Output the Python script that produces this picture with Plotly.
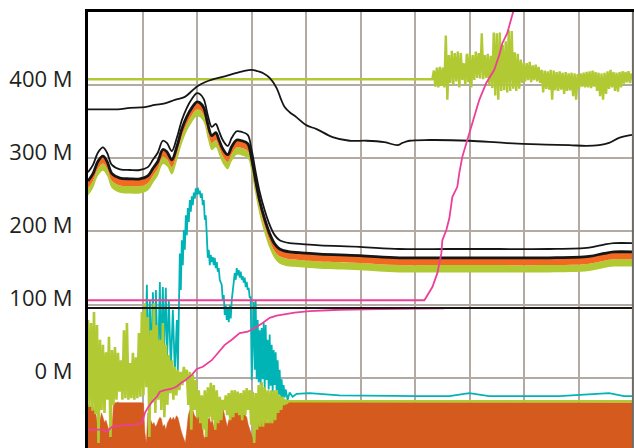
import numpy as np
import plotly.graph_objects as go

# ---------------- data (values in millions) ----------------
tick_vals = [0, 100, 200, 300, 400]
tick_text = ["0 M", "100 M", "200 M", "300 M", "400 M"]

# upper thin black line
ub_x = [0, 12, 30, 42, 57, 67, 77, 87, 97, 104, 110, 117, 125, 137, 147, 155, 164, 170, 176, 182,
        189, 193, 197, 202, 209, 219, 229, 245, 262, 279, 297, 310, 315, 322, 342, 382, 417, 452,
        482, 499, 512, 522, 532, 545]
ub_v = [367, 367, 367, 369, 370, 373, 375, 380, 384, 392, 399, 404, 408, 412, 416, 419, 421, 419, 416, 410,
        396, 382, 370, 363, 356, 345, 340, 329, 324, 324, 322, 318, 321, 324, 325, 324, 321, 319,
        318, 317, 318, 321, 328, 332]

# band series
band_x = [0, 5, 10, 15, 19, 24, 32, 42, 52, 60, 65, 70, 75, 79, 84, 89, 94, 99, 104, 109, 112, 116,
          120, 124, 128, 131, 135, 140, 144, 149, 154, 160, 164, 168, 172, 177, 182, 187, 192, 202,
          212, 232, 272, 312, 362, 412, 462, 502, 517, 527, 545]
band_top = [281, 291, 308, 315, 308, 291, 285, 284, 284, 288, 298, 308, 324, 321, 310, 328, 352, 369, 381,
            389, 388, 381, 359, 343, 347, 338, 325, 317, 328, 337, 336, 332, 311, 281, 254, 229, 209,
            195, 188, 184, 183, 181, 179, 176, 176, 176, 176, 178, 182, 184, 184]
band_mid = [269, 279, 296, 303, 296, 279, 273, 272, 272, 276, 286, 296, 312, 309, 298, 316, 340, 357, 369,
            377, 376, 369, 347, 331, 335, 326, 313, 305, 316, 325, 324, 320, 299, 269, 242, 217, 197,
            183, 176, 172, 171, 169, 167, 164, 164, 164, 164, 166, 170, 172, 172]
band_orange_low = [259, 269, 286, 293, 286, 269, 263, 262, 262, 266, 276, 286, 302, 299, 288, 306, 330, 347,
                   359, 367, 366, 359, 337, 321, 325, 316, 303, 295, 306, 315, 314, 310, 289, 259, 232,
                   207, 187, 173, 166, 162, 161, 159, 157, 154, 154, 154, 154, 156, 160, 162, 162]
band_green_low = [249, 259, 276, 283, 276, 259, 253, 252, 252, 256, 266, 276, 292, 289, 278, 296, 320, 337,
                  349, 357, 356, 349, 327, 311, 315, 306, 293, 285, 296, 305, 304, 300, 279, 249, 222,
                  197, 177, 163, 156, 152, 151, 149, 147, 144, 144, 144, 144, 146, 150, 152, 152]

# upper green series: flat level then noisy part
gt_flat_x = [0, 344]
gt_flat_v = [408, 408]
gt_noise_start = 345
gt_noise = [408, 420, 398, 424, 397, 425, 399, 424, 397, 468, 380, 441, 403, 447, 400, 444, 405, 446, 397, 444,
            407, 430, 400, 443, 404, 444, 397, 441, 407, 446, 410, 444, 409, 471, 408, 441, 410, 443, 400, 440,
            396, 472, 386, 471, 380, 472, 392, 455, 393, 460, 390, 475, 392, 474, 395, 445, 392, 443, 395, 435,
            403, 431, 405, 430, 407, 432, 404, 427, 407, 428, 405, 425, 403, 421, 390, 420, 395, 419, 394, 421,
            380, 420, 393, 418, 392, 419, 394, 417, 388, 418, 392, 416, 393, 417, 385, 416, 380, 415, 395, 416,
            398, 417, 397, 418, 397, 419, 396, 420, 398, 418, 392, 417, 385, 416, 380, 417, 388, 419, 395, 421,
            397, 418, 392, 417, 391, 418, 397, 419, 402, 418, 404, 419, 403, 416]

# teal series
teal_x = [57, 59, 60, 62, 63, 65, 67, 68, 70, 72, 73, 75, 76, 78, 79, 81, 83, 85, 87, 89, 90,
          92, 93, 94, 95, 96, 97, 98, 99, 100, 101, 102, 103, 104, 105, 106, 107, 108, 109, 110, 111,
          112, 113, 114, 115, 116, 117, 118, 119, 120, 121, 122, 123, 124, 125, 126, 127, 128, 129, 130,
          131, 132, 134, 135, 136, 137, 138, 139, 140, 141, 142, 143, 144, 145, 146, 147, 148, 149, 150,
          151, 152, 153, 154, 155, 156, 157, 158, 159, 160, 161, 162, 163, 164, 165, 166, 167, 168, 169,
          170, 171, 172, 173, 174, 175, 176, 177, 178, 179, 180, 181, 182, 183, 184, 185, 186, 187, 188,
          189, 190, 191, 192, 193, 194, 195, 196, 197, 198, 200, 202, 205, 209, 222, 252, 332, 362, 382,
          402, 472, 502, 522, 537, 546]
teal_v = [8, 127, 24, 106, 11, 117, 17, 120, 8, 131, 24, 124, 38, 123, 17, 106, 11, 93, 8, 79, 8,
          170, 120, 188, 154, 202, 175, 222, 195, 232, 213, 243, 227, 248, 236, 253, 245, 259, 250, 260, 251,
          256, 246, 252, 236, 243, 216, 222, 195, 164, 175, 154, 168, 158, 165, 154, 164, 150, 158, 145,
          150, 134, 127, 106, 113, 86, 99, 79, 95, 76, 99, 81, 106, 120, 134, 143, 134, 150, 140,
          147, 137, 145, 134, 139, 130, 137, 124, 131, 120, 123, 109, 111, -3, 79, 104, 11, 105, -2,
          79, -6, 65, -10, 68, -2, 75, -15, 72, -3, 52, -16, 59, -11, 45, -19, 38, -10, 35,
          -20, 24, -23, 11, -27, -2, -30, -10, -27, -16, -30, -20, -26, -22, -21, -24, -25, -25, -21,
          -25, -25, -23, -21, -25, -25]

# lower green series (noisy part sampled every 1.5 units, then flat)
gb_noise = [79, -40, 75, -45, 90, -50, 72, -89, 52, -44,
            45, -48, 35, -30, 56, -81, 38, -37, 42, -30,
            34, -19, 24, -30, 65, -28, 75, -30, 20, -28,
            34, -30, 28, -28, 61, -26, 90, -24, 102, -13,
            83, -81, 65, -34, 102, -48, 72, -30, 52, -44,
            75, -54, 45, -37, 31, -21, 24, -30, 15, -24,
            11, -17, 8, -10, 15, -3, 11, -37, 8, -71,
            4, -44, -3, -54, -17, -62, -24, -71, -17, -81,
            -13, -54, -7, -58, -10, -71, -17, -62, -26, -58,
            -30, -44, -24, -51, -21, -58, -17, -54, -17, -48,
            -19, -51, -21, -58, -17, -51, -14, -44, -17, -64,
            -19, -89, -21, -71, -10, -67, -6, -67, -13, -62,
            -17, -62, -17, -62, -17, -58, -17, -48, -24, -44,
            -26, -37, -30, -34, -32]
gb_tail_x = [205, 546]
gb_tail_v = [-32, -32]

# orange area top (noisy part sampled every 1.5 units, then flat)
or_noise = [-37, -37, -40, -38, -44, -45, -60, -51, -58, -48, -54, -61, -58, -67, -72, -70, -71, -37,
            -34, -34, -33, -34, -34, -33, -34, -34, -34, -33, -34, -34, -33, -34, -34, -34, -33, -34, -34, -35,
            -75, -89, -48, -62, -58, -64, -61, -67, -64, -58,
            -54, -56, -67, -64, -71, -62, -57, -54, -58, -54,
            -58, -52, -54, -64, -71, -78, -84, -89, -71, -51,
            -44, -48, -44, -51, -54, -58, -48, -51, -44, -78,
            -84, -64, -58, -54, -62, -58, -67, -71, -51, -48,
            -44, -41, -40, -51, -58, -67, -58, -54, -51, -48,
            -45, -44, -41, -40, -38, -37, -48, -51, -54, -64,
            -71, -78, -84, -89, -62, -54, -58, -57, -54, -58,
            -54, -58, -61, -62, -58, -54, -51, -48, -44, -41,
            -37, -35, -34, -33, -33, -33, -33]
or_tail_x = [205, 546]
or_tail_v = [-34, -34]
floor_x = [0, 546]
floor_v = [-100, -100]

# pink series
p1_x = [0, 337, 345, 350, 354, 355, 359, 362, 365, 370, 372, 375, 380, 384, 392, 399, 407, 412, 415, 420, 425, 430]
p1_v = [106, 106, 124, 143, 170, 188, 202, 218, 247, 261, 280, 302, 325, 343, 380, 403, 421, 441, 457, 471, 496, 520]
p2_x = [0, 14, 19, 24, 34, 47, 54, 57, 60, 64, 69, 72, 77, 84, 89, 94, 97, 104, 109, 115, 124, 130, 137,
        144, 152, 160, 167, 175, 182, 189, 197, 207, 222, 252, 292, 332, 357]
p2_v = [-71, -71, -74, -67, -65, -64, -62, -48, -41, -33, -26, -19, -17, -15, -12, -6, -4, 4, 12, 15, 24, 34, 45,
        52, 61, 63, 68, 75, 82, 85, 87, 89, 91, 93, 94, 94.5, 95]

# black reference level
ref_x = [0, 546]
ref_v = [95.4, 95.4]

# ---------------- styling ----------------
BLACK = "#161616"
ORANGE_DARK = "#D45A1E"
ORANGE = "#F26A21"
GREEN = "#B1C933"
TEAL = "#00B4B6"
PINK = "#EC3F98"
GRID = "#B3ABA3"

step = 1.5
gb_x = list(np.arange(len(gb_noise)) * step) + gb_tail_x
gb_v = gb_noise + gb_tail_v
or_x = list(np.arange(len(or_noise)) * step) + or_tail_x
or_v = or_noise + or_tail_v
gt_x = gt_flat_x + list(gt_noise_start + np.arange(len(gt_noise)) * step)
gt_v = gt_flat_v + gt_noise

fig = go.Figure()

def line(x, y, color, width, shape="linear", **kw):
    fig.add_trace(go.Scatter(x=x, y=y, mode="lines", line=dict(color=color, width=width, shape=shape),
                             hoverinfo="skip", **kw))

# orange floor area
line(floor_x, floor_v, "rgba(0,0,0,0)", 0)
fig.add_trace(go.Scatter(x=or_x, y=or_v, mode="lines", line=dict(color=ORANGE_DARK, width=0.5),
                         fill="tonexty", fillcolor=ORANGE_DARK, hoverinfo="skip"))
# teal (behind the lower green)
line(teal_x, teal_v, TEAL, 1.8)
# lower green noisy
line(gb_x, gb_v, GREEN, 2.6)
# upper green
line(gt_x, gt_v, GREEN, 2.4)
# upper black
line(ub_x, ub_v, BLACK, 1.8, shape="spline")
# band
line(band_x, band_green_low, "rgba(0,0,0,0)", 0, shape="spline")
fig.add_trace(go.Scatter(x=band_x, y=band_orange_low, mode="lines",
                         line=dict(color="rgba(0,0,0,0)", width=0, shape="spline"),
                         fill="tonexty", fillcolor=GREEN, hoverinfo="skip"))
fig.add_trace(go.Scatter(x=band_x, y=band_mid, mode="lines",
                         line=dict(color=BLACK, width=2.8, shape="spline"),
                         fill="tonexty", fillcolor=ORANGE, hoverinfo="skip"))
line(band_x, band_top, BLACK, 1.8, shape="spline")
# pink rising from bottom
line(p2_x, p2_v, PINK, 1.8)
# black reference
fig.add_trace(go.Scatter(x=ref_x, y=ref_v, mode="lines", line=dict(color=BLACK, width=2),
                         xaxis="x2", hoverinfo="skip"))
# pink step line
line(p1_x, p1_v, PINK, 1.8)

# right frame edge
fig.add_shape(type="line", xref="paper", yref="paper", x0=0.998, x1=0.998, y0=0, y1=1,
              line=dict(color="#6E6A66", width=2), layer="above")

fig.update_layout(
    width=634, height=448,
    margin=dict(l=88, r=0, t=12, b=0),
    plot_bgcolor="white", paper_bgcolor="white",
    showlegend=False,
    xaxis=dict(range=[0, 547], showgrid=True, gridcolor=GRID, gridwidth=2, tick0=0, dtick=54.6,
               showticklabels=False, zeroline=False, showline=False, ticks="", automargin=False),
    xaxis2=dict(range=[0, 547], overlaying="x", side="top", showline=True, linecolor="black", linewidth=3,
                showgrid=False, showticklabels=False, zeroline=False, ticks="", automargin=False),
    yaxis=dict(range=[-96, 500], tickvals=tick_vals, ticktext=tick_text, showgrid=True, gridcolor=GRID,
               gridwidth=2, zeroline=False, showline=True, linecolor="black", linewidth=3, ticks="",
               ticklabelstandoff=8, ticklabelshift=-6, automargin=False,
               tickfont=dict(family="Open Sans", size=22, color="#231F20")),
)

# remove the page's default body margin so the 634x448 figure fills the window exactly
fig.write_html("out.html",
               config={"displayModeBar": False, "staticPlot": True},
               post_script="document.body.style.margin='0px';document.body.style.overflow='hidden';")
